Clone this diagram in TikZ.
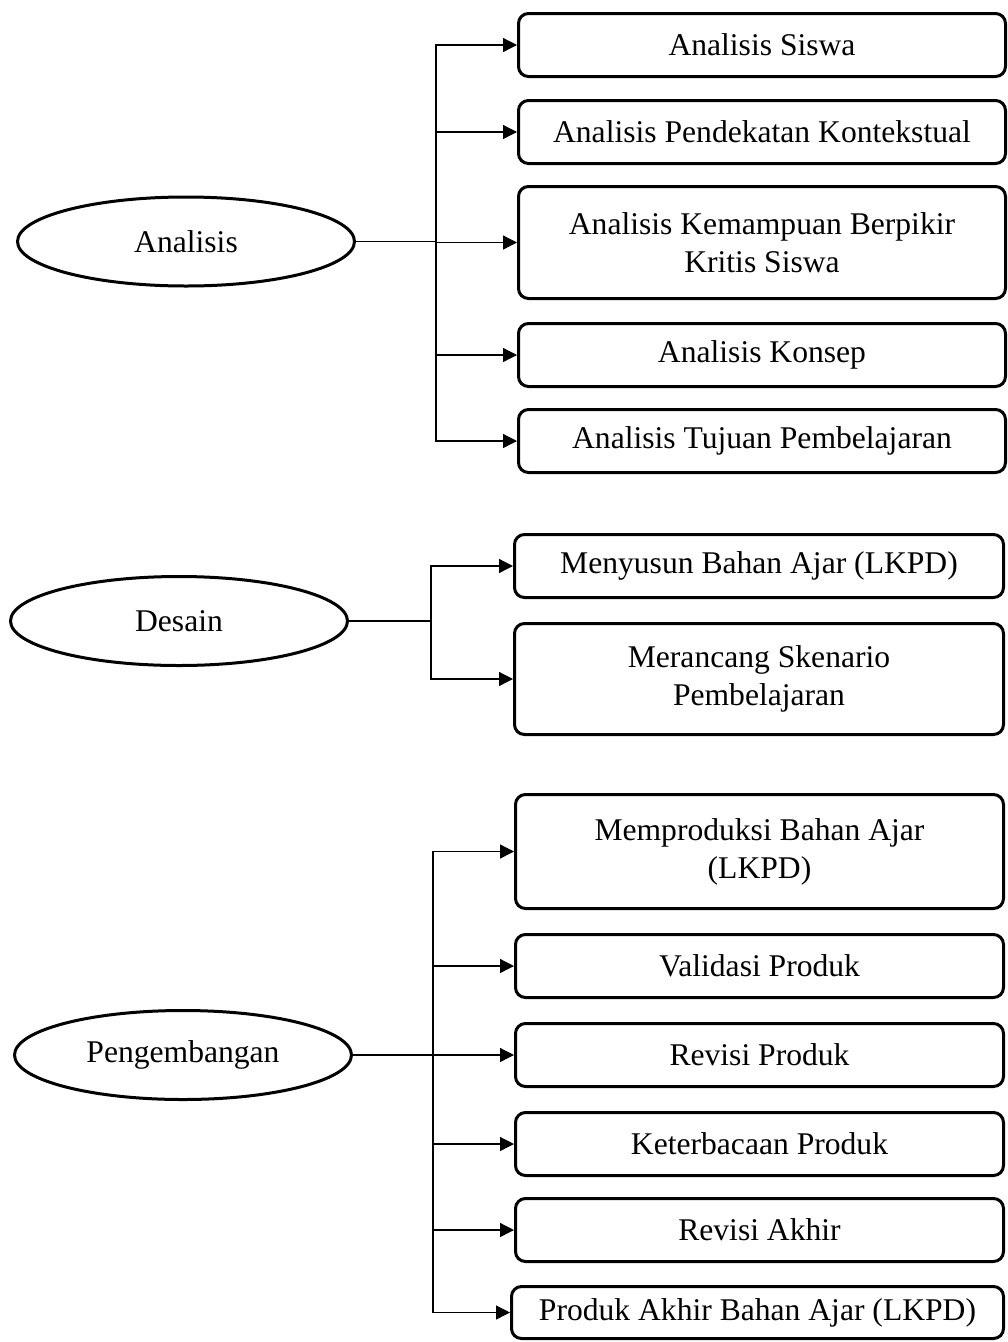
\documentclass[tikz,border=0pt]{standalone}
\usepackage{fontspec}
\setmainfont{Liberation Serif}
\usetikzlibrary{shapes.geometric,arrows.meta}
\begin{document}
\begin{tikzpicture}[x=1pt,y=-1pt,
  every node/.style={font=\fontsize{31.6}{38}\selectfont},
  phase/.style={ellipse,draw,line width=3pt,minimum width=337pt,minimum height=89pt,inner sep=0pt},
  box/.style={rectangle,rounded corners=10pt,draw,line width=3pt,minimum width=487pt,minimum height=63pt,inner sep=0pt,align=center},
  conn/.style={line width=1.3pt,line cap=rect},
  arr/.style={line width=1.3pt,-{Triangle[length=14pt,width=14pt]}}]
\fill[white] (0,0) rectangle (1008,1342);
\useasboundingbox (0,0) rectangle (1008,1342);

% Analisis
\node[phase] (an) at (186,241.5) {Analisis};
\node[box] (a1) at (762,45) {Analisis Siswa};
\node[box] (a2) at (762,132) {Analisis Pendekatan Kontekstual};
\node[box,minimum height=112pt] (a3) at (762,242.5) {Analisis Kemampuan Berpikir\\Kritis Siswa};
\node[box] (a4) at (762,355) {Analisis Konsep};
\node[box] (a5) at (762,441) {Analisis Tujuan Pembelajaran};
\coordinate (ja) at (436,241.5);
\draw[conn] (an.east) -- (ja);
\draw[conn] (ja |- a1.west) -- (ja |- a5.west);
\foreach \b in {a1,a2,a3,a4,a5} \draw[arr] (ja |- \b.west) -- (\b.west);

% Desain
\node[phase] (de) at (179,621) {Desain};
\node[box,minimum width=489pt] (d1) at (759,566) {Menyusun Bahan Ajar (LKPD)};
\node[box,minimum width=489pt,minimum height=111pt] (d2) at (759,679) {Merancang Skenario\\Pembelajaran};
\coordinate (jd) at (431,621);
\draw[conn] (de.east) -- (jd);
\draw[conn] (jd |- d1.west) -- (jd |- d2.west);
\foreach \b in {d1,d2} \draw[arr] (jd |- \b.west) -- (\b.west);

% Pengembangan
\node[phase] (pe) at (183,1055) {Pengembangan};
\node[box,minimum width=488pt,minimum height=114pt] (p1) at (759.5,851.5) {Memproduksi Bahan Ajar\\(LKPD)};
\node[box,minimum width=488pt] (p2) at (759.5,966) {Validasi Produk};
\node[box,minimum width=488pt] (p3) at (759.5,1055) {Revisi Produk};
\node[box,minimum width=488pt] (p4) at (759.5,1144) {Keterbacaan Produk};
\node[box,minimum width=488pt] (p5) at (759.5,1230) {Revisi Akhir};
\node[box,minimum width=492pt,minimum height=52pt] (p6) at (757.5,1312.5) {Produk Akhir Bahan Ajar (LKPD)};
\coordinate (jp) at (433,1055);
\draw[conn] (pe.east) -- (jp);
\draw[conn] (jp |- p1.west) -- (jp |- p6.west);
\foreach \b in {p1,p2,p3,p4,p5,p6} \draw[arr] (jp |- \b.west) -- (\b.west);
\end{tikzpicture}
\end{document}
